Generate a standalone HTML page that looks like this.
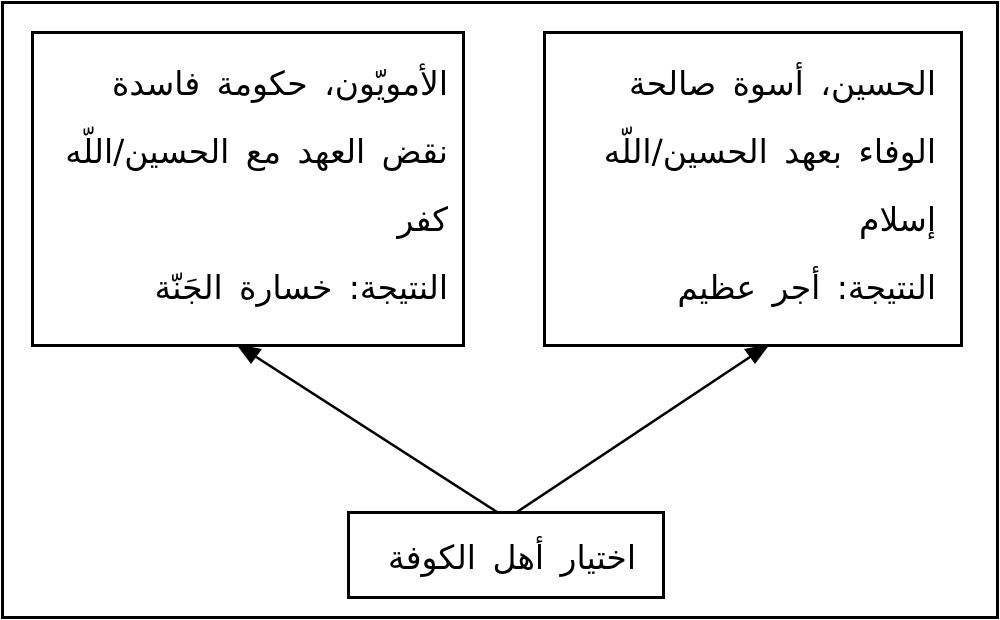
<!DOCTYPE html>
<html><head><meta charset="utf-8"><style>
body{margin:0;width:1000px;height:620px;background:#fff;position:relative;overflow:hidden;font-family:"DejaVu Sans",serif;}
.b{position:absolute;border:3px solid #000;box-sizing:border-box;background:#fff}
.t{position:absolute;direction:rtl;text-align:right;font-size:33px;word-spacing:6px;white-space:nowrap;color:#000;line-height:40px}
</style></head><body>
<div class="b" style="left:1px;top:1px;width:998px;height:618px;border-width:3px"></div>
<div class="b" style="left:31px;top:31px;width:434px;height:316px"></div>
<div class="b" style="left:543px;top:31px;width:420px;height:316px"></div>
<div class="b" style="left:347px;top:511px;width:318px;height:88px"></div>
<div class="t" style="right:552px;top:64px">الأمويّون، حكومة فاسدة</div>
<div class="t" style="right:552px;top:132px">نقض العهد مع الحسين/اللّه</div>
<div class="t" style="right:552px;top:200px">كفر</div>
<div class="t" style="right:552px;top:268px">النتيجة: خسارة الجَنّة</div>
<div class="t" style="right:64px;top:64px">الحسين، أسوة صالحة</div>
<div class="t" style="right:64px;top:132px">الوفاء بعهد الحسين/اللّه</div>
<div class="t" style="right:64px;top:200px">إسلام</div>
<div class="t" style="right:64px;top:268px">النتيجة: أجر عظيم</div>
<div class="t" style="right:364px;top:538px">اختيار أهل الكوفة</div>
<svg style="position:absolute;left:0;top:0" width="1000" height="620">
<line x1="497" y1="512" x2="250" y2="353" stroke="#000" stroke-width="2.5"/>
<polygon points="236,344 262,349 251,364" fill="#000"/>
<line x1="517" y1="512" x2="756" y2="353" stroke="#000" stroke-width="2.5"/>
<polygon points="770,344 744,349 755,364" fill="#000"/>
</svg>
</body></html>
